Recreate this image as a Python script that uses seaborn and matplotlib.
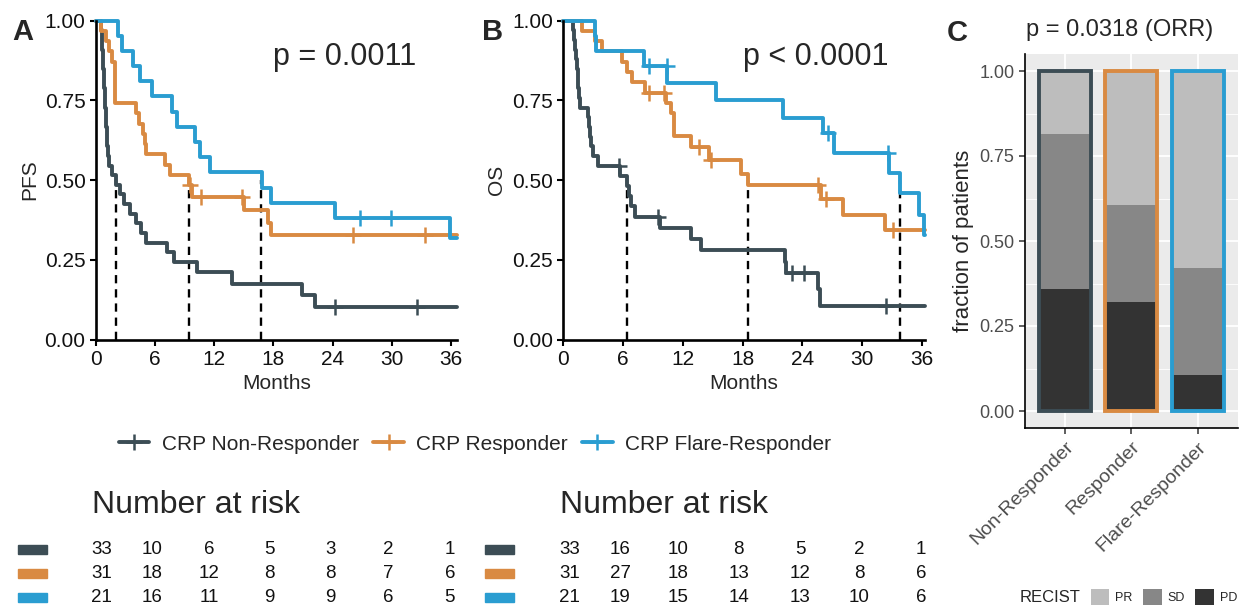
import numpy as np
import pandas as pd
import matplotlib
matplotlib.use("Agg")
import matplotlib.pyplot as plt
import seaborn as sns
from matplotlib.lines import Line2D
from matplotlib.patches import Patch, Rectangle
from matplotlib.transforms import blended_transform_factory

# ---------------- data ----------------
groups = ["CRP Non-Responder", "CRP Responder", "CRP Flare-Responder"]
colors = ["#3c4d55", "#d98a42", "#2a9dd1"]

# PFS (panel A) step functions: event times (months) and survival after each step
pfs_nr_t = [0, 0.55, 0.6, 0.65, 0.7, 0.75, 0.8, 0.85, 0.9, 0.95, 1.0, 1.05, 1.1, 1.15, 1.2,
            1.3, 1.6, 2.0, 2.4, 2.8, 3.4, 4.1, 4.6, 5.1, 7.2, 7.9, 10.2, 13.8, 20.9, 22.2]
pfs_nr_s = [1.0, 0.970, 0.939, 0.909, 0.879, 0.848, 0.818, 0.788, 0.758, 0.727, 0.697, 0.667,
            0.636, 0.606, 0.576, 0.545, 0.515, 0.485, 0.455, 0.424, 0.394, 0.364, 0.333, 0.303,
            0.273, 0.242, 0.212, 0.175, 0.140, 0.103]
pfs_nr_cens = [24.3, 32.6]

pfs_r_t = [0, 0.5, 1.0, 1.3, 1.6, 1.95, 4.1, 4.4, 4.8, 5.0, 5.1, 7.0, 7.5, 9.4, 9.7, 15.0, 17.5, 17.8]
pfs_r_s = [1.0, 0.968, 0.935, 0.903, 0.871, 0.742, 0.710, 0.677, 0.645, 0.613, 0.581, 0.548,
           0.516, 0.484, 0.448, 0.406, 0.365, 0.328]
pfs_r_cens = [9.55, 10.7, 14.8, 26.1, 33.4]

pfs_fr_t = [0, 2.27, 2.6, 3.8, 4.5, 5.65, 7.7, 8.2, 10.05, 10.56, 11.6, 16.8, 17.8, 24.3, 35.9]
pfs_fr_s = [1.0, 0.952, 0.905, 0.857, 0.810, 0.762, 0.714, 0.667, 0.619, 0.571, 0.524, 0.476,
            0.429, 0.381, 0.317]
pfs_fr_cens = [26.8, 29.9]

# OS (panel B)
os_nr_t = [0, 1.0, 1.1, 1.2, 1.3, 1.4, 1.45, 1.5, 1.6, 1.7, 2.5, 2.6, 2.7, 2.8, 3.0, 3.5,
           5.7, 6.4, 6.6, 6.8, 7.2, 9.7, 12.8, 13.8, 22.2, 22.4, 25.6, 25.8]
os_nr_s = [1.0, 0.970, 0.939, 0.909, 0.879, 0.848, 0.818, 0.788, 0.758, 0.727, 0.697, 0.667,
           0.636, 0.606, 0.576, 0.545, 0.513, 0.481, 0.449, 0.417, 0.385, 0.349, 0.314, 0.279,
           0.244, 0.209, 0.157, 0.105]
os_nr_cens = [5.6, 9.5, 23.0, 24.2, 32.4]

os_r_t = [0, 1.85, 3.2, 3.9, 5.9, 6.4, 6.9, 8.2, 10.3, 10.8, 11.1, 12.8, 14.6, 17.8, 18.5,
          25.9, 28.1, 32.3]
os_r_s = [1.0, 0.968, 0.935, 0.903, 0.871, 0.839, 0.806, 0.774, 0.741, 0.710, 0.637, 0.604,
          0.562, 0.520, 0.484, 0.442, 0.390, 0.343]
os_r_cens = [8.6, 10.1, 13.6, 14.8, 25.6, 26.4, 33.1]

os_fr_t = [0, 3.2, 3.3, 8.07, 10.45, 15.3, 22.0, 26.1, 27.2, 32.7, 33.8, 35.7, 36.2]
os_fr_s = [1.0, 0.952, 0.905, 0.857, 0.804, 0.751, 0.693, 0.646, 0.584, 0.521, 0.458, 0.390, 0.328]
os_fr_cens = [8.6, 10.4, 26.6, 32.6]

pfs_end = 36.6
os_end = 36.3
pfs_medians = [2.0, 9.4, 16.75]
os_medians = [6.4, 18.5, 33.75]

risk_times = [0, 6, 12, 18, 24, 30, 36]
pfs_risk_nr = [33, 10, 6, 5, 3, 2, 1]
pfs_risk_r = [31, 18, 12, 8, 8, 7, 6]
pfs_risk_fr = [21, 16, 11, 9, 9, 6, 5]
os_risk_nr = [33, 16, 10, 8, 5, 2, 1]
os_risk_r = [31, 27, 18, 13, 12, 8, 6]
os_risk_fr = [21, 19, 15, 14, 13, 10, 6]

# Panel C
cats = ["Non-Responder", "Responder", "Flare-Responder"]
frac_pd = [0.36, 0.32, 0.105]
frac_sd = [0.455, 0.285, 0.315]
frac_pr = [0.185, 0.395, 0.58]
recist = ["PR", "SD", "PD"]
recist_colors = ["#bdbdbd", "#878787", "#333333"]

# ---------------- style ----------------
sns.set_style("ticks")
plt.rcParams["font.family"] = ["Liberation Sans", "DejaVu Sans"]

W, H = 1244, 607
fig = plt.figure(figsize=(W / 100, H / 100), dpi=100)


def fx(px):
    return px / W


def fy(py):
    return 1 - py / H


axA = fig.add_axes([fx(96), fy(339.5), fx(456.7 - 96), 319 / H])
axB = fig.add_axes([fx(563.3), fy(339.5), fx(925 - 563.3), 319 / H])
axC = fig.add_axes([fx(1025), fy(428), fx(212.5), 374 / H])

LW = 2.8


def km(ax, t, s, cens, end, color):
    df = pd.DataFrame({"t": list(t) + [end], "s": list(s) + [s[-1]]})
    sns.lineplot(data=df, x="t", y="s", drawstyle="steps-post", color=color, lw=LW,
                 ax=ax, estimator=None, sort=False, clip_on=False, legend=False)
    tt = np.array(t)
    cs = [s[np.searchsorted(tt, c, side="right") - 1] for c in cens]
    ax.plot(cens, cs, ls="none", marker="+", ms=12, mew=1.8, color=color, clip_on=False)


def km_panel(ax, curves, end, medians, ylabel, ptext):
    for (t, s, c), col in zip(curves, colors):
        km(ax, t, s, c, end, col)
    for m in medians:
        ax.vlines(m, 0, 0.5, colors="black", linestyles=(0, (3.5, 2.5)), lw=1.7, zorder=1)
    ax.set_xlim(0, end)
    ax.set_ylim(0, 1)
    ax.set_xticks(risk_times)
    ax.set_yticks([0, 0.25, 0.5, 0.75, 1.0])
    ax.set_yticklabels(["0.00", "0.25", "0.50", "0.75", "1.00"])
    ax.tick_params(labelsize=15, length=4, width=1.5, color="black", labelcolor="#111111")
    for sp in ["left", "bottom"]:
        ax.spines[sp].set_linewidth(1.9)
        ax.spines[sp].set_color("black")
    sns.despine(ax=ax)
    ax.set_xlabel("Months", fontsize=15)
    ax.set_ylabel(ylabel, fontsize=15)
    ax.text(18.0, 0.86, ptext, fontsize=22, ha="left", va="baseline")


km_panel(axA, [(pfs_nr_t, pfs_nr_s, pfs_nr_cens), (pfs_r_t, pfs_r_s, pfs_r_cens),
               (pfs_fr_t, pfs_fr_s, pfs_fr_cens)], pfs_end, pfs_medians, "PFS", "p = 0.0011")
km_panel(axB, [(os_nr_t, os_nr_s, os_nr_cens), (os_r_t, os_r_s, os_r_cens),
               (os_fr_t, os_fr_s, os_fr_cens)], os_end, os_medians, "OS", "p < 0.0001")

fig.text(fx(12), fy(40), "A", fontsize=21, fontweight="bold", ha="left", va="baseline")
fig.text(fx(482), fy(40), "B", fontsize=21, fontweight="bold", ha="left", va="baseline")
fig.text(fx(947), fy(41), "C", fontsize=21, fontweight="bold", ha="left", va="baseline")

# legend for KM curves
handles = [Line2D([0], [0], color=c, lw=LW, marker="+", ms=12, mew=1.8) for c in colors]
fig.legend(handles, groups, loc="center", bbox_to_anchor=(fx(475), fy(444)), ncol=3,
           frameon=False, fontsize=15, handlelength=1.45, handletextpad=0.6,
           columnspacing=0.7)

# number at risk tables
risk_nudge = [0.6, -0.3, -0.5, -0.4, -0.2, -0.3, -0.1]
row_y = [549, 573.3, 597.7]
for ax, risks, title_x, sw_x in [
        (axA, [pfs_risk_nr, pfs_risk_r, pfs_risk_fr], 92, 18),
        (axB, [os_risk_nr, os_risk_r, os_risk_fr], 560, 485)]:
    tr = blended_transform_factory(ax.transData, fig.transFigure)
    fig.text(fx(title_x), fy(513), "Number at risk", fontsize=23, ha="left", va="baseline")
    for r, (vals, col) in enumerate(zip(risks, colors)):
        yy = fy(row_y[r])
        fig.patches.append(Rectangle((fx(sw_x), yy - 4.5 / H), fx(29), 9 / H,
                                     transform=fig.transFigure, color=col, zorder=3))
        for t, nud, v in zip(risk_times, risk_nudge, vals):
            fig.text(t + nud, yy, str(v), transform=tr, fontsize=13.5, ha="center",
                     va="center", color="#111111")

# ---------------- panel C ----------------
sd_cum = [a + b for a, b in zip(frac_pd, frac_sd)]
tot = [a + b for a, b in zip(sd_cum, frac_pr)]
bw = 0.78
axC.set_facecolor("#ebebeb")
axC.set_axisbelow(True)
for vals, col in zip([tot, sd_cum, frac_pd], recist_colors):
    sns.barplot(x=cats, y=vals, color=col, width=bw, ax=axC, saturation=1,
                errorbar=None, zorder=2, order=cats, linewidth=0, edgecolor=col)
axC.bar(range(len(cats)), tot, width=bw, fill=False, edgecolor=colors, lw=2.8, zorder=3)
axC.set_xlim(-0.6, 2.6)
axC.set_ylim(-0.05, 1.05)
axC.set_yticks([0, 0.25, 0.5, 0.75, 1.0])
axC.set_yticklabels(["0.00", "0.25", "0.50", "0.75", "1.00"])
axC.set_yticks([0.125, 0.375, 0.625, 0.875], minor=True)
axC.grid(True, which="major", color="white", lw=1.3)
axC.grid(True, which="minor", axis="y", color="white", lw=0.6)
axC.tick_params(which="minor", length=0)
axC.tick_params(which="major", labelsize=13, length=4, width=1.1, color="#333333",
                labelcolor="#4d4d4d")
axC.set_xticks(range(len(cats)))
axC.set_xticklabels(cats, rotation=45, ha="right", rotation_mode="anchor", fontsize=14)
axC.set_xlabel("")
axC.set_ylabel("fraction of patients", fontsize=16)
for sp in ["top", "right"]:
    axC.spines[sp].set_visible(False)
for sp in ["left", "bottom"]:
    axC.spines[sp].set_color("black")
    axC.spines[sp].set_linewidth(1.2)
fig.text(fx(1120), fy(30), "p = 0.0318 (ORR)", fontsize=17, ha="center", va="center")

fig.text(fx(1020), fy(597), "RECIST", fontsize=12, ha="left", va="center")
rh = [Patch(facecolor=c, edgecolor="none") for c in recist_colors]
fig.legend(rh, recist, loc="center left", bbox_to_anchor=(fx(1083), fy(597)), ncol=3,
           frameon=False, fontsize=9, handlelength=1.5, handleheight=1.5,
           handletextpad=0.5, columnspacing=0.8, borderpad=0.1)

fig.savefig("out.png", dpi=100)
